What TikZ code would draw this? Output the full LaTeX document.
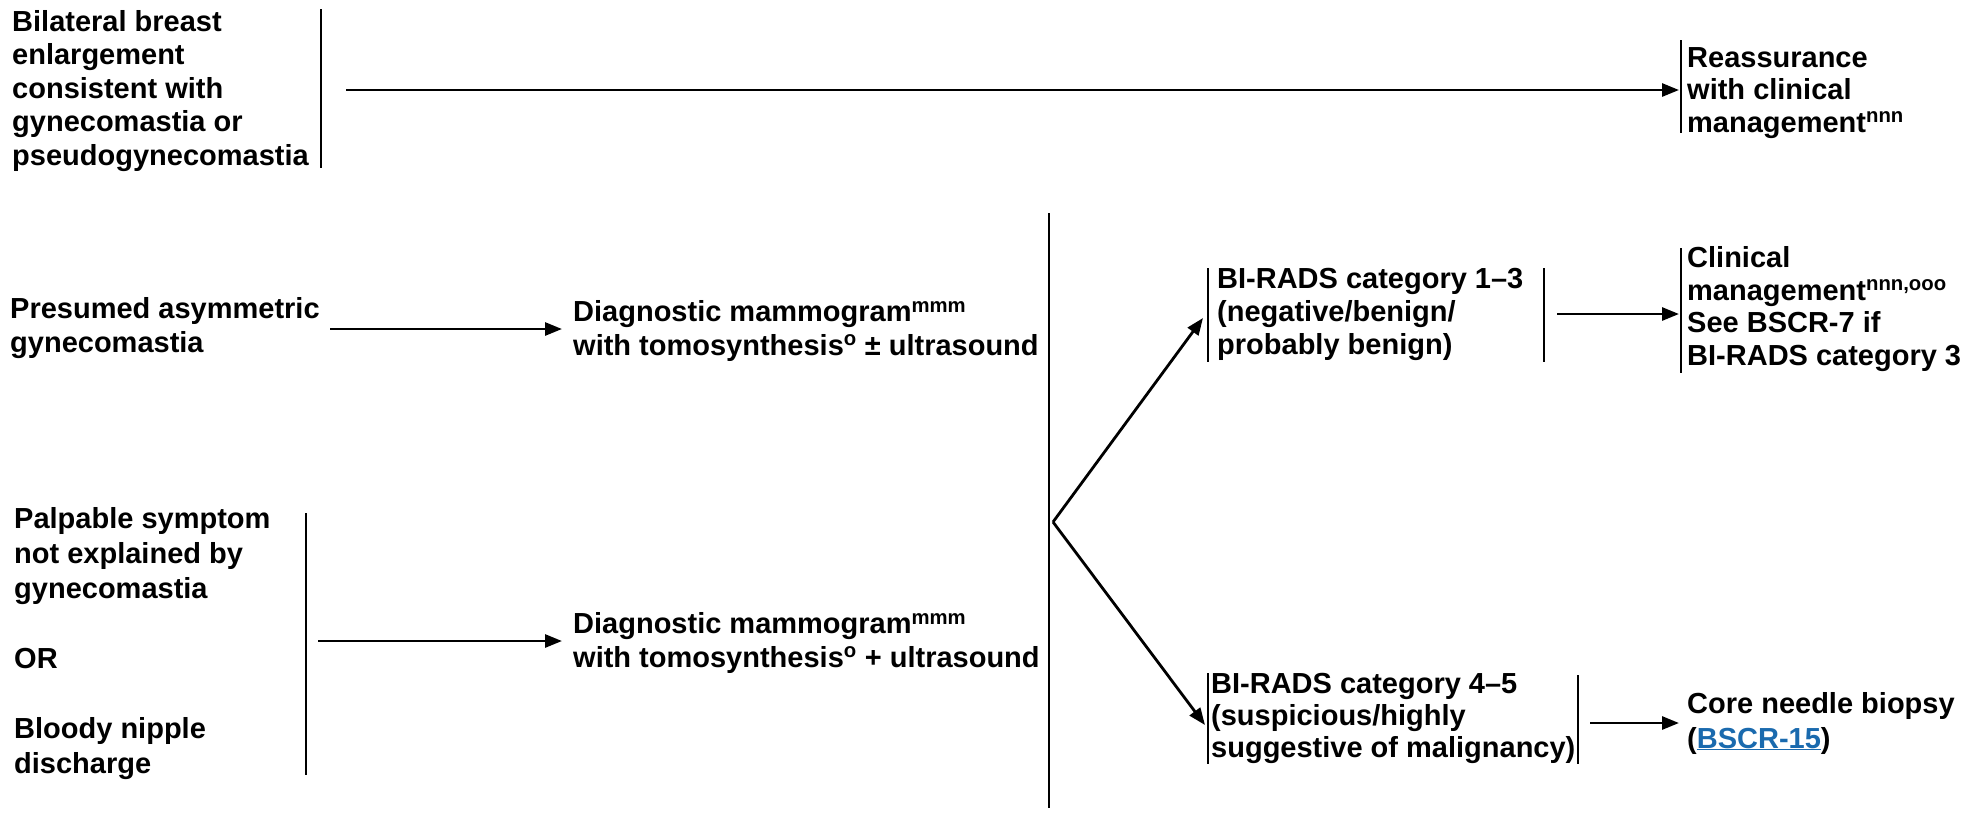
\documentclass[tikz,border=0pt]{standalone}
\usepackage{fontspec}
\setmainfont{Liberation Sans}
\usetikzlibrary{arrows.meta}
\definecolor{linkblue}{HTML}{1A6AAE}
\begin{document}
\begin{tikzpicture}[x=1pt,y=-1pt,
  txt/.style={anchor=base west, inner sep=0pt, align=left, font=\fontsize{29}{33.5}\selectfont\bfseries},
  bar/.style={line width=2.8pt},
  arr/.style={line width=2.8pt, -{Triangle[length=17pt,width=13pt]}}]
\useasboundingbox (0,0) rectangle (1982,812);

% (text nodes are placed at the baseline of their LAST line)
% --- top row
\node[txt] (bil) at (12,165) {Bilateral breast\\enlargement\\consistent with\\gynecomastia or\\pseudogynecomastia};
\coordinate (b1t) at (321,9); \coordinate (b1b) at (321,168);
\draw[bar] (b1t) -- (b1b);
\coordinate (a1s) at (346,90); \coordinate (a1e) at (1679,90);
\draw[arr] (a1s) -- (a1e);
\coordinate (b2t) at (1681,40); \coordinate (b2b) at (1681,133);
\draw[bar] (b2t) -- (b2b);
\node[txt, font=\fontsize{29}{32.5}\selectfont\bfseries] (reas) at (1687,132) {Reassurance\\with clinical\\management\textsuperscript{nnn}};

% --- presumed asymmetric
\node[txt] (pres) at (10,352) {Presumed asymmetric\\gynecomastia};
\coordinate (a2s) at (330,329); \coordinate (a2e) at (562,329);
\draw[arr] (a2s) -- (a2e);
\node[txt] (dm1) at (573,355) {Diagnostic mammogram\textsuperscript{mmm}\\with tomosynthesis\textsuperscript{o} ± ultrasound};

% --- palpable symptom
\node[txt, font=\fontsize{29}{35}\selectfont\bfseries] (palp) at (14,773) {Palpable symptom\\not explained by\\gynecomastia\\[35pt]OR\\[35pt]Bloody nipple\\discharge};
\coordinate (b3t) at (306,513); \coordinate (b3b) at (306,775);
\draw[bar] (b3t) -- (b3b);
\coordinate (a3s) at (318,641); \coordinate (a3e) at (562,641);
\draw[arr] (a3s) -- (a3e);
\node[txt] (dm2) at (573,667) {Diagnostic mammogram\textsuperscript{mmm}\\with tomosynthesis\textsuperscript{o} + ultrasound};

% --- big bar and fork
\coordinate (bbt) at (1049,213); \coordinate (bbb) at (1049,808);
\draw[bar] (bbt) -- (bbb);
\coordinate (fork) at (1053,522);
\coordinate (up) at (1203,318); \coordinate (dn) at (1205,725);
\draw[arr] (fork) -- (up);
\draw[arr] (fork) -- (dn);

% --- BI-RADS 1-3
\coordinate (b4t) at (1208,268); \coordinate (b4b) at (1208,362);
\draw[bar] (b4t) -- (b4b);
\node[txt, font=\fontsize{29}{33}\selectfont\bfseries] (br13) at (1217,354) {BI-RADS category 1–3\\(negative/benign/\\probably benign)};
\coordinate (b5t) at (1544,268); \coordinate (b5b) at (1544,362);
\draw[bar] (b5t) -- (b5b);
\coordinate (a4s) at (1557,314); \coordinate (a4e) at (1679,314);
\draw[arr] (a4s) -- (a4e);
\coordinate (b6t) at (1681,248); \coordinate (b6b) at (1681,373);
\draw[bar] (b6t) -- (b6b);
\node[txt, font=\fontsize{29}{32.5}\selectfont\bfseries] (clin) at (1687,365) {Clinical\\management\textsuperscript{nnn,ooo}\\See BSCR-7 if\\BI-RADS category 3};

% --- BI-RADS 4-5
\coordinate (b7t) at (1208,673); \coordinate (b7b) at (1208,764);
\draw[bar] (b7t) -- (b7b);
\node[txt, font=\fontsize{29}{32}\selectfont\bfseries] (br45) at (1211,757) {BI-RADS category 4–5\\(suspicious/highly\\suggestive of malignancy)};
\coordinate (b8t) at (1578,675); \coordinate (b8b) at (1578,764);
\draw[bar] (b8t) -- (b8b);
\coordinate (a5s) at (1590,723); \coordinate (a5e) at (1679,723);
\draw[arr] (a5s) -- (a5e);
\node[txt, font=\fontsize{29}{35}\selectfont\bfseries] (core) at (1687,748) {Core needle biopsy\\({\color{linkblue}\underline{BSCR-15}})};
\end{tikzpicture}
\end{document}
